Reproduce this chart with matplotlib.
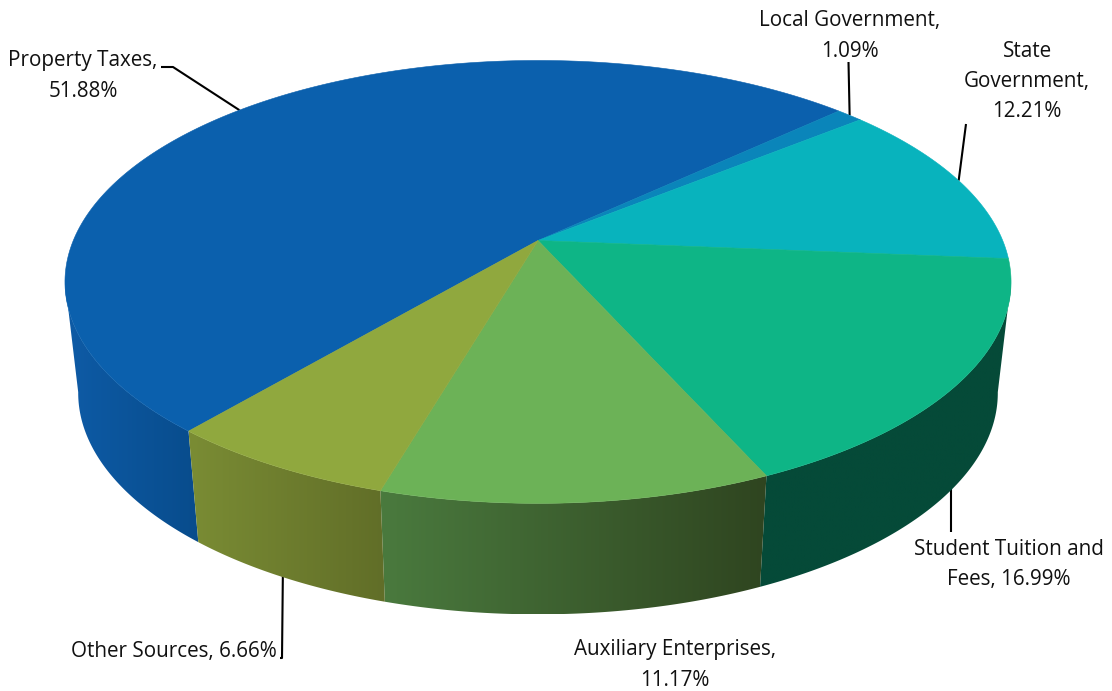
import numpy as np
import matplotlib
matplotlib.use("Agg")
import matplotlib.pyplot as plt
from matplotlib.patches import Polygon
from matplotlib.colors import to_rgb

# ---- data ----
categories = ["Property Taxes", "Local Government", "State Government",
              "Student Tuition and Fees", "Auxiliary Enterprises", "Other Sources"]
shares = [51.88, 1.09, 12.21, 16.99, 11.17, 6.66]

# ---- style ----
top_colors = ["#0B60AD", "#0A85BA", "#08B3BD", "#0EB586", "#6CB257", "#90A83E"]
side_left = ["#0E5BA6", "#0A7AAA", "#08A0A8", "#054A38", "#4A7A3E", "#7A8C34"]
side_right = ["#084C8C", "#0A7AAA", "#08A0A8", "#054A38", "#2F4520", "#616E28"]
label_text = ["Property Taxes,\n51.88%", "Local Government,\n1.09%", "State\nGovernment,\n12.21%",
              "Student Tuition and\nFees, 16.99%", "Auxiliary Enterprises,\n11.17%", "Other Sources, 6.66%"]
label_xy = [(83, 76), (850, 36), (1027, 81.5), (1009, 564.5), (675, 665), (173.5, 651.5)]

START = 220.13
CX, CY = 538.0, 240.5
A, B, K = 464.7, 213.7, 0.187
DEPTH, SHRINK = 111.0, 0.972
SIL = np.degrees(np.arctan2(1.0, -K))  # silhouette angle measured from the top


def top_pt(deg):
    t = np.radians(deg)
    u, v = np.sin(t), np.cos(t)
    d = 1 + K * v
    return CX + A * u / d, CY - B * v / d


def bot_pt(deg):
    x, y = top_pt(deg)
    return CX + SHRINK * (x - CX), y + DEPTH


fig = plt.figure(figsize=(11.12, 6.91), dpi=100)
ax = fig.add_axes([0, 0, 1, 1])

edges = START + np.concatenate([[0], np.cumsum(shares)]) * 3.6
front_lo, front_hi = SIL, 360 - SIL

# side walls
for i in range(len(shares)):
    lo, hi = edges[i], edges[i + 1]
    if lo >= 360:
        lo, hi = lo - 360, hi - 360
    a0 = max(lo, front_lo)
    a1 = min(hi, front_hi)
    if a1 <= a0:
        continue
    th = np.linspace(a0, a1, 120)
    tx, ty = top_pt(th)
    bx, by = bot_pt(th)
    poly = np.vstack([np.column_stack([tx, ty]), np.column_stack([bx, by])[::-1]])
    patch = Polygon(poly, closed=True, facecolor="none", edgecolor="none")
    ax.add_patch(patch)
    c0, c1 = np.array(to_rgb(side_left[i])), np.array(to_rgb(side_right[i]))
    grad = np.linspace(c0, c1, 64)[None, :, :]
    im = ax.imshow(grad, extent=[poly[:, 0].min(), poly[:, 0].max(), poly[:, 1].max(), poly[:, 1].min()],
                   aspect="auto", interpolation="bilinear", zorder=2)
    im.set_clip_path(patch)

# top face
for i in range(len(shares)):
    th = np.linspace(edges[i], edges[i + 1], 200)
    x, y = top_pt(th)
    pts = np.vstack([[CX, CY], np.column_stack([x, y])])
    ax.add_patch(Polygon(pts, closed=True, facecolor=top_colors[i], edgecolor=top_colors[i],
                         linewidth=0.4, zorder=3))

# leader lines, anchored at each slice's mid angle
mids = (edges[:-1] + edges[1:]) / 2
lc = dict(color="black", lw=1.5, zorder=1, solid_capstyle="butt")
x, y = top_pt(mids[0]); ax.plot([161, 173, x], [67, 67, y], **lc)
x, y = top_pt(mids[1]); ax.plot([848.5, x], [62, y], **lc)
x, y = top_pt(mids[2]); ax.plot([966, x], [124, y], **lc)
x, y = bot_pt(mids[3]); ax.plot([950.5, 950.5], [532, y - 8], **lc)
x, y = bot_pt(mids[5]); ax.plot([280, 282, x], [658, 658, y - 6], **lc)

for s, (lx, ly) in zip(label_text, label_xy):
    ax.text(lx, ly, s, ha="center", va="center", family="Open Sans", fontsize=14.9,
            color="#111111", linespacing=1.57, zorder=5)

ax.set_xlim(0, 1112)
ax.set_ylim(691, 0)
ax.axis("off")
fig.savefig("out.png", dpi=100, facecolor="white")
